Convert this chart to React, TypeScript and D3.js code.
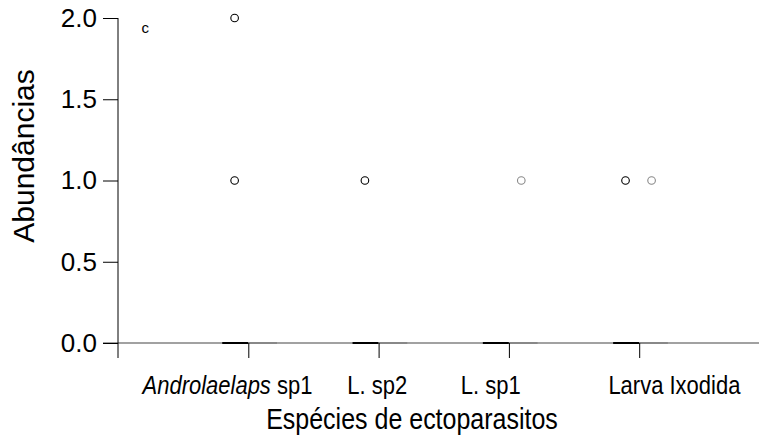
import React, { useEffect, useRef } from 'react';
import * as d3 from 'd3';

// species on the x axis
const categories = ['Androlaelaps sp1', 'L. sp2', 'L. sp1', 'Larva Ixodida'];
// where each label sits along the axis (data units, ticks at 1..4)
const labelAt = [0.84, 1.99, 2.86, 4.27];

// box stats per group (all collapsed at zero)
const blackQ1 = [0, 0, 0, 0];
const blackQ3 = [0, 0, 0, 0];
const grayQ1 = [0, 0, 0, 0];
const grayQ3 = [0, 0, 0, 0];

// outliers per category
const blackOutliers = [[2, 1], [1], [], [1]];
const grayOutliers = [[], [], [1], [1]];

const yTicks = [0, 0.5, 1, 1.5, 2];

const App: React.FC = () => {
  const svgRef = useRef<SVGSVGElement>(null);

  useEffect(() => {
    if (!svgRef.current) return;
    const svg = d3.select(svgRef.current);
    svg.selectAll('*').remove();

    const W = 759;
    const H = 444;
    const font = '"Liberation Sans", Arial, sans-serif';

    const x = d3.scaleLinear().domain([0, 5]).range([118, 769.5]);
    const y = d3.scaleLinear().domain([0, 2]).range([343, 18]);

    svg.attr('width', W).attr('height', H);

    // zero reference line
    svg.append('line')
      .attr('x1', 103).attr('x2', W)
      .attr('y1', y(0)).attr('y2', y(0))
      .attr('stroke', '#444').attr('stroke-width', 1.2);

    // boxes (collapsed)
    const boxes = [
      { q1: blackQ1, q3: blackQ3, from: -0.2, to: 0, color: '#000' },
      { q1: grayQ1, q3: grayQ3, from: 0, to: 0.22, color: '#888' },
    ];
    boxes.forEach(b => {
      categories.forEach((_, i) => {
        svg.append('rect')
          .attr('x', x(i + 1 + b.from))
          .attr('y', y(b.q3[i]) - 1)
          .attr('width', x(i + 1 + b.to) - x(i + 1 + b.from))
          .attr('height', y(b.q1[i]) - y(b.q3[i]) + 2)
          .attr('fill', b.color);
      });
    });

    // outliers
    const pts = [
      { data: blackOutliers, off: -0.105, color: '#000' },
      { data: grayOutliers, off: 0.095, color: '#888' },
    ];
    pts.forEach(p => {
      p.data.forEach((vals, i) => {
        vals.forEach(v => {
          svg.append('circle')
            .attr('cx', x(i + 1 + p.off))
            .attr('cy', y(v))
            .attr('r', 3.8)
            .attr('fill', 'none')
            .attr('stroke', p.color)
            .attr('stroke-width', 1.1);
        });
      });
    });

    // y axis
    const yAxis = svg.append('g')
      .attr('transform', `translate(${x(0)},0)`)
      .call(d3.axisLeft(y).tickValues(yTicks).tickFormat(d3.format('.1f')).tickSize(15).tickPadding(6));
    yAxis.select('.domain').remove();
    yAxis.selectAll('line').attr('stroke', '#000');
    yAxis.selectAll('text')
      .attr('font-family', font).attr('font-size', 26).attr('fill', '#000');
    svg.append('line')
      .attr('x1', x(0)).attr('x2', x(0))
      .attr('y1', y(2)).attr('y2', y(0) + 15)
      .attr('stroke', '#000');

    // x ticks
    const xAxis = svg.append('g')
      .attr('transform', `translate(0,${y(0)})`)
      .call(d3.axisBottom(x).tickValues([1, 2, 3, 4]).tickSize(15).tickFormat(() => ''));
    xAxis.select('.domain').remove();
    xAxis.selectAll('line').attr('stroke', '#000');

    // x labels (glyphs a bit taller than wide, like the original)
    categories.forEach((c, i) => {
      const t = svg.append('text')
        .attr('transform', `translate(${x(labelAt[i])},394) scale(1,1.18)`)
        .attr('text-anchor', 'middle')
        .attr('font-family', font)
        .attr('font-size', 22);
      if (c.startsWith('Androlaelaps')) {
        t.append('tspan').attr('font-style', 'italic').text('Androlaelaps');
        t.append('tspan').text(' sp1');
      } else {
        t.text(c);
      }
    });

    // letter annotation
    svg.append('text')
      .attr('x', x(0.21)).attr('y', y(1.94) + 5)
      .attr('text-anchor', 'middle')
      .attr('font-family', font).attr('font-size', 15)
      .text('c');

    // axis titles
    svg.append('text')
      .attr('transform', 'translate(412,429) scale(1,1.18)')
      .attr('text-anchor', 'middle')
      .attr('font-family', font).attr('font-size', 25)
      .text('Espécies de ectoparasitos');

    svg.append('text')
      .attr('transform', `translate(34,156) rotate(-90)`)
      .attr('text-anchor', 'middle')
      .attr('font-family', font).attr('font-size', 30)
      .text('Abundâncias');
  }, []);

  return (
    <svg ref={svgRef} style={{ position: 'absolute', left: 0, top: 0 }}></svg>
  );
};

export default App;
